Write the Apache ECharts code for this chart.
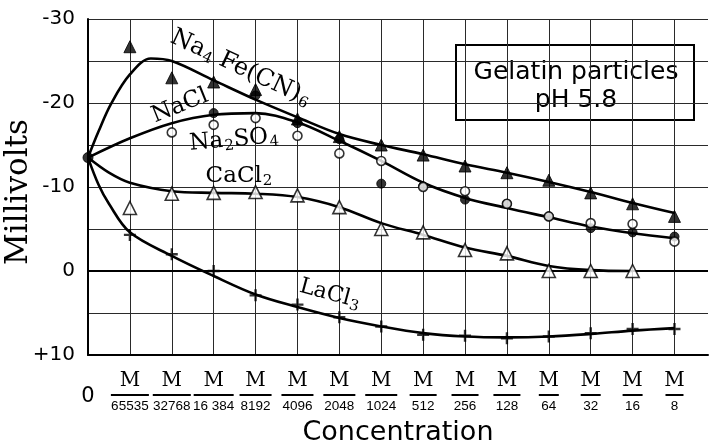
<!DOCTYPE html>
<html>
<head>
<meta charset="utf-8">
<script src="https://cdn.jsdelivr.net/npm/echarts@6/dist/echarts.min.js"></script>
<style>
  html, body { margin: 0; padding: 0; background: #fff; }
  #chart { width: 709px; height: 443px; }
</style>
</head>
<body>
<div id="chart"></div>
<script>
// Concentration steps: index 0 is pure water, then M/65535 ... M/8
const denominators = ['', '65535', '32768', '16 384', '8192', '4096', '2048', '1024', '512', '256', '128', '64', '32', '16', '8'];

// Shared starting value at zero concentration (mV)
const startValue = -13.5;

// Measured points (mV), keyed by concentration index
const na4Index = [1, 2, 3, 4, 5, 6, 7, 8, 9, 10, 11, 12, 13, 14];
const na4Points = [-26.7, -23.0, -22.5, -21.6, -18.1, -16.0, -15.0, -13.8, -12.5, -11.7, -10.8, -9.3, -8.0, -6.5];

const naclIndex = [3, 4, 5, 6, 7, 8, 9, 10, 11, 12, 13, 14];
const naclPoints = [-18.8, -20.9, -17.6, -15.7, -10.4, -10.1, -8.5, -8.0, -6.5, -5.1, -4.6, -4.1];

const na2so4Index = [2, 3, 4, 5, 6, 7, 8, 9, 10, 11, 12, 13, 14];
const na2so4Points = [-16.5, -17.4, -18.2, -16.1, -14.0, -13.1, -10.0, -9.5, -8.0, -6.5, -5.7, -5.6, -3.5];

const cacl2Index = [1, 2, 3, 4, 5, 6, 7, 8, 9, 10, 11, 12, 13];
const cacl2Points = [-7.5, -9.2, -9.3, -9.4, -9.0, -7.6, -5.0, -4.6, -2.5, -2.1, 0.0, 0.0, 0.0];

const lacl3Index = [1, 2, 3, 4, 5, 6, 7, 8, 9, 10, 11, 12, 13, 14];
const lacl3Points = [-4.3, -2.0, 0.0, 2.9, 4.0, 5.5, 6.6, 7.6, 7.7, 8.0, 7.8, 7.4, 6.9, 6.9];

// Smoothed fitted curves [index, mV]
const na4Curve = [[0, -13.5], [0.25, -16.6], [0.55, -19.9], [1, -23.4], [1.5, -25.3], [2, -25.0], [3, -22.7], [4, -20.4], [5, -18.3], [6, -16.3], [7, -15.0], [8, -13.9], [9, -12.7], [10, -11.7], [11, -10.6], [12, -9.4], [13, -8.1], [14, -6.9]];
const naclCurve = [[0, -13.5], [1, -15.8], [2, -17.6], [3, -18.6], [4, -18.8], [5, -17.7], [6, -15.5], [7, -13.1], [8, -10.5], [9, -8.7], [10, -7.5], [11, -6.4], [12, -5.3], [13, -4.5], [14, -3.9]];
const cacl2Curve = [[0, -13.5], [0.5, -11.7], [1, -10.5], [2, -9.5], [3, -9.3], [4, -9.2], [5, -8.8], [6, -7.6], [7, -5.7], [8, -4.3], [9, -2.8], [10, -1.8], [11, -0.6], [12, -0.1], [13, 0.0]];
const lacl3Curve = [[0, -13.5], [0.25, -10.3], [0.5, -8.0], [1, -4.6], [2, -1.8], [3, 0.6], [4, 2.8], [5, 4.3], [6, 5.6], [7, 6.6], [8, 7.4], [9, 7.8], [10, 7.9], [11, 7.8], [12, 7.5], [13, 7.1], [14, 6.8]];

const pair = (xs, ys) => xs.map((x, i) => [x, ys[i]]);

const SERIF = '"DejaVu Serif", "Liberation Serif", serif';
const SANS = '"DejaVu Sans", "Liberation Sans", sans-serif';
const DIGITS = '"Liberation Sans", Arial, sans-serif';

const plusPath = 'path://M4,0h2v4h4v2h-4v4h-2v-4h-4v-2h4z';

function curveSeries(data) {
  return {
    type: 'line', data, smooth: 0.35, showSymbol: false, silent: true,
    lineStyle: { color: '#000', width: 2.6 }, z: 3
  };
}

function pointSeries(data, symbol, size, fill, border) {
  return {
    type: 'scatter', data, symbol, symbolSize: size, silent: true, z: 5,
    itemStyle: { color: fill, borderColor: '#000', borderWidth: border }
  };
}

const barWidths = { 1: 18, 2: 20, 3: 27, 4: 32, 5: 38, 6: 40 };
const richX = {
  z: { fontFamily: SANS, fontSize: 21, lineHeight: 58, color: '#000' },
  m: { fontFamily: SERIF, fontSize: 20, lineHeight: 25, color: '#000' },
  d: { fontFamily: DIGITS, fontSize: 13.5, lineHeight: 18, color: '#000' }
};
Object.keys(barWidths).forEach(k => {
  richX['b' + k] = { width: barWidths[k], height: 2, lineHeight: 4, backgroundColor: '#000' };
});

const subRich = size => ({
  n: { fontFamily: SERIF, fontSize: size, fill: '#000', lineHeight: size + 4 },
  s: { fontFamily: SERIF, fontSize: 15, fill: '#000', padding: [11, 0, 0, 1] }
});

const chart = echarts.init(document.getElementById('chart'), null, { renderer: 'canvas' });

chart.setOption({
  backgroundColor: '#fff',
  animation: false,
  grid: { left: 88, top: 19, right: 1, bottom: 88, containLabel: false, outerBoundsMode: 'none' },
  xAxis: {
    type: 'value', min: 0, max: 14.8, interval: 1,
    name: 'Concentration', nameLocation: 'middle', nameGap: 64,
    nameTextStyle: { fontFamily: SANS, fontSize: 27, color: '#000' },
    axisLine: { show: true, onZero: false, lineStyle: { color: '#000', width: 2 } },
    axisTick: { show: false },
    splitLine: { show: true, showMinLine: false, showMaxLine: false, lineStyle: { color: '#2a2a2a', width: 1 } },
    axisLabel: {
      margin: 13, showMaxLabel: false, color: '#000',
      formatter: v => {
        if (!Number.isInteger(v) || v < 0 || v > 14) return '';
        if (v === 0) return '{z|0}';
        const d = denominators[v];
        return '{m|M}\n{b' + d.length + '|}\n{d|' + d + '}';
      },
      rich: richX
    }
  },
  yAxis: {
    type: 'value', inverse: true, min: -30, max: 10, interval: 5,
    axisLine: { show: true, onZero: false, lineStyle: { color: '#000', width: 2 } },
    axisTick: { show: false },
    splitLine: { show: true, lineStyle: { color: '#2a2a2a', width: 1.2 } },
    axisLabel: {
      margin: 13, color: '#000', fontFamily: SANS, fontSize: 20,
      formatter: v => (v % 10 !== 0 ? '' : v > 0 ? '+' + v : String(v))
    }
  },
  series: [
    Object.assign(curveSeries(na4Curve), {
      markLine: {
        silent: true, symbol: 'none', label: { show: false },
        lineStyle: { color: '#000', width: 2.2, type: 'solid' },
        data: [{ yAxis: 0 }]
      }
    }),
    curveSeries(naclCurve),
    curveSeries(cacl2Curve),
    curveSeries(lacl3Curve),
    pointSeries(pair(na4Index, na4Points), 'triangle', 12, '#000', 1),
    pointSeries(pair(naclIndex, naclPoints), 'circle', 9, '#000', 1),
    pointSeries(pair(na2so4Index, na2so4Points), 'circle', 9, '#fff', 1.6),
    pointSeries(pair(cacl2Index, cacl2Points), 'triangle', 13, '#fff', 1.6),
    pointSeries(pair(lacl3Index, lacl3Points), plusPath, 12, '#000', 0),
    pointSeries([[0, startValue]], 'circle', 10, '#000', 1)
  ],
  graphic: [
    {
      // vertical axis title
      type: 'text', x: 19, y: 192, rotation: Math.PI / 2, z: 10,
      style: { text: 'Millivolts', fontFamily: SERIF, fontSize: 31, fill: '#000', align: 'center', verticalAlign: 'middle' }
    },
    {
      type: 'group', z: 10,
      children: [
        {
          type: 'rect', shape: { x: 456, y: 45, width: 238, height: 75 },
          style: { fill: '#fff', stroke: '#000', lineWidth: 2 }
        },
        {
          type: 'text', x: 576, y: 72,
          style: { text: 'Gelatin particles', fontFamily: SANS, fontSize: 25, fill: '#000', align: 'center', verticalAlign: 'middle' }
        },
        {
          type: 'text', x: 576, y: 100,
          style: { text: 'pH 5.8', fontFamily: SANS, fontSize: 25, fill: '#000', align: 'center', verticalAlign: 'middle' }
        }
      ]
    },
    {
      type: 'text', x: 172, y: 36, rotation: -25 * Math.PI / 180, z: 10,
      style: { text: '{n|Na}{s|4}{n| Fe(CN)}{s|6}', align: 'left', verticalAlign: 'middle', rich: subRich(24) }
    },
    {
      type: 'text', x: 180, y: 106, rotation: 22 * Math.PI / 180, z: 10,
      style: { text: 'NaCl', fontFamily: SERIF, fontSize: 23, fill: '#000', align: 'center', verticalAlign: 'middle' }
    },
    {
      type: 'text', x: 234, y: 140, rotation: 5 * Math.PI / 180, z: 10,
      style: { text: '{n|Na}{s|2}{n|SO}{s|4}', align: 'center', verticalAlign: 'middle', rich: subRich(23) }
    },
    {
      type: 'text', x: 239, y: 176, z: 10,
      style: { text: '{n|CaCl}{s|2}', align: 'center', verticalAlign: 'middle', rich: subRich(23) }
    },
    {
      type: 'text', x: 330, y: 294, rotation: -15 * Math.PI / 180, z: 10,
      style: { text: '{n|LaCl}{s|3}', align: 'center', verticalAlign: 'middle', rich: subRich(22) }
    }
  ]
});
</script>
</body>
</html>
